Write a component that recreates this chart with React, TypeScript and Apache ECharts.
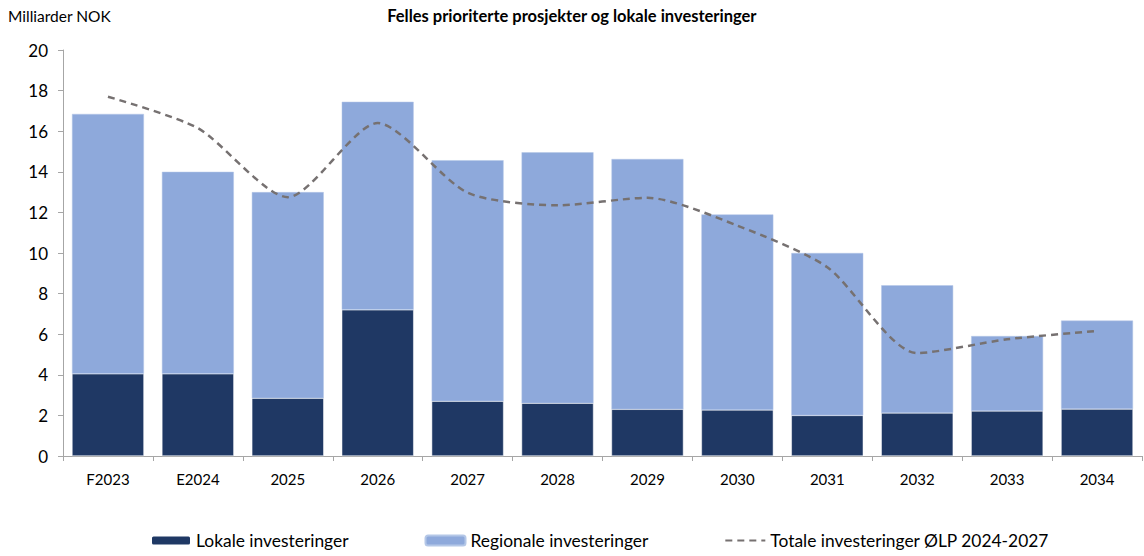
import React, { useEffect, useRef } from "react";
import * as echarts from "echarts";

const categories = ["F2023", "E2024", "2025", "2026", "2027", "2028", "2029", "2030", "2031", "2032", "2033", "2034"];
const lokale = [4.05, 4.05, 2.85, 7.2, 2.7, 2.6, 2.3, 2.27, 2.0, 2.12, 2.22, 2.31];
const totalBars = [16.85, 14.0, 13.0, 17.45, 14.57, 14.96, 14.63, 11.9, 10.0, 8.41, 5.91, 6.67];
const regionale = totalBars.map((t, i) => +(t - lokale[i]).toFixed(2));
const totaleOLP = [17.7, 16.15, 12.75, 16.4, 12.97, 12.35, 12.72, 11.35, 9.3, 5.07, 5.75, 6.16];
const yTicks = { min: 0, max: 20, interval: 2 };

const FONT = "Lato";

export default function App() {
  const ref = useRef<HTMLDivElement>(null);
  useEffect(() => {
    const chart = echarts.init(ref.current!, null, { renderer: "svg" });
    chart.setOption({
      animation: false,
      textStyle: { fontFamily: FONT },
      graphic: [
        { type: "text", left: 8, top: 8, style: { text: "Milliarder NOK", font: `15.5px ${FONT}`, fill: "#000" } },
        { type: "text", left: "center", top: 7, style: { text: "Felles prioriterte prosjekter og lokale investeringer", font: `bold 16.5px ${FONT}`, fill: "#000" } },
      ],
      grid: { left: 63, right: 2, top: 50, bottom: 100, containLabel: false },
      xAxis: {
        type: "category",
        data: categories,
        axisLine: { lineStyle: { color: "#A6A6A6", width: 1 } },
        axisTick: { show: true, alignWithLabel: false, length: 5, lineStyle: { color: "#A6A6A6" } },
        axisLabel: { color: "#000", fontSize: 15, margin: 15, fontFamily: FONT },
      },
      yAxis: {
        type: "value",
        min: yTicks.min,
        max: yTicks.max,
        interval: yTicks.interval,
        axisLine: { show: true, lineStyle: { color: "#A6A6A6", width: 1 } },
        axisTick: { show: true, inside: false, length: 5, lineStyle: { color: "#A6A6A6" } },
        splitLine: { show: false },
        axisLabel: { color: "#000", fontSize: 17, margin: 15, fontFamily: FONT },
      },
      legend: {
        bottom: 2,
        left: 145,
        itemWidth: 40,
        itemHeight: 10,
        itemGap: 76,
        textStyle: { fontSize: 17.4, color: "#000", fontFamily: FONT },
        data: [
          { name: "Lokale investeringer" },
          { name: "Regionale investeringer" },
          { name: "Totale investeringer ØLP 2024-2027", itemStyle: { opacity: 0 } },
        ],
      },
      series: [
        {
          name: "Lokale investeringer",
          type: "bar",
          stack: "a",
          data: lokale,
          barCategoryGap: "20%",
          itemStyle: { color: "#1F3864", borderColor: "#FFFFFF", borderWidth: 0.5 },
        },
        {
          name: "Regionale investeringer",
          type: "bar",
          stack: "a",
          data: regionale,
          barCategoryGap: "20%",
          itemStyle: { color: "#8EA9DB", borderColor: "#B4C7E7", borderWidth: 0.5 },
        },
        {
          name: "Totale investeringer ØLP 2024-2027",
          type: "line",
          data: totaleOLP,
          smooth: 0.25,
          symbol: "none",
          lineStyle: { color: "#767171", width: 2.5, type: [7, 5] },
          itemStyle: { color: "#767171" },
          z: 5,
        },
      ],
    });
    return () => chart.dispose();
  }, []);
  return <div ref={ref} style={{ width: 1144, height: 556, position: "absolute", left: 0, top: 0 }} />;
}
